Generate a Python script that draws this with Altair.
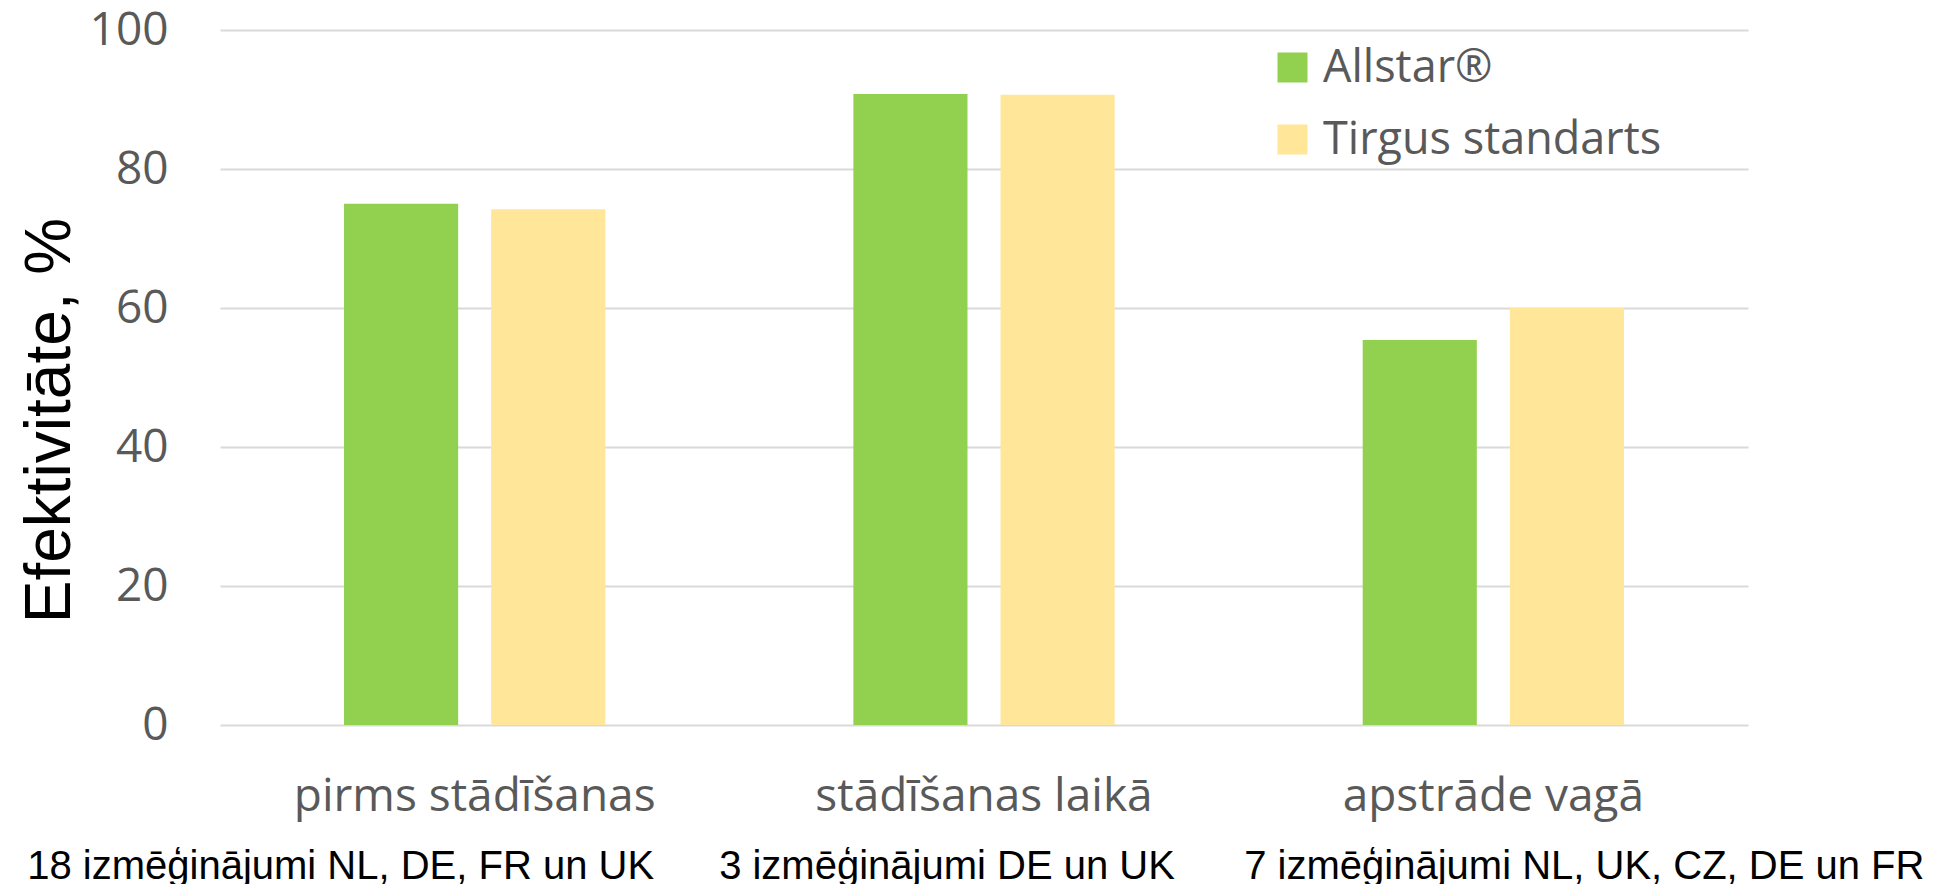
import altair as alt
import pandas as pd

categories = ["pirms stādīšanas", "stādīšanas laikā", "apstrāde vagā"]
series = ["Allstar®", "Tirgus standarts"]
allstar = [75.0, 90.8, 55.4]
tirgus = [74.2, 90.7, 60.0]
notes = [
    "18 izmēģinājumi NL, DE, FR un UK",
    "3 izmēģinājumi DE un UK",
    "7 izmēģinājumi NL, UK, CZ, DE un FR",
]
note_shift = [-134, -37, 91]
y_ticks = [0, 20, 40, 60, 80, 100]
colors = ["#92D050", "#FFE699"]

rows = []
for c, a, t in zip(categories, allstar, tirgus):
    rows.append({"cat": c, "series": series[0], "value": a})
    rows.append({"cat": c, "series": series[1], "value": t})
df = pd.DataFrame(rows)

GRAY = "#595959"
FONT = "Open Sans"

x_enc = alt.X(
    "cat:N",
    sort=categories,
    scale=alt.Scale(paddingInner=0.487, paddingOuter=0.2435),
    axis=alt.Axis(
        title=None,
        labelFont=FONT,
        labelFontSize=46,
        labelColor=GRAY,
        labelBaseline="alphabetic",
        labelPadding=85,
        labelAngle=0,
        labelLimit=0,
        labelOverlap=False,
        ticks=False,
        domain=False,
        grid=False,
    ),
)

bars = alt.Chart(df).mark_bar().encode(
    x=x_enc,
    xOffset=alt.XOffset(
        "series:N",
        sort=series,
        scale=alt.Scale(paddingInner=0.2245, paddingOuter=0),
    ),
    y=alt.Y(
        "value:Q",
        scale=alt.Scale(domain=[0, 100], nice=False),
        axis=alt.Axis(
            title="Efektivitāte, %",
            titleFont="Liberation Sans",
            titleFontSize=64,
            titleFontWeight="normal",
            titleColor="#000000",
            titleAngle=270,
            titleAlign="center",
            titleBaseline="alphabetic",
            titleX=-151,
            titleY=390,
            values=y_ticks,
            labelFont=FONT,
            labelFontSize=46,
            labelColor=GRAY,
            labelPadding=52,
            ticks=False,
            domain=False,
            grid=True,
            gridColor="#D9D9D9",
            gridWidth=2,
        ),
    ),
    color=alt.Color(
        "series:N",
        sort=series,
        scale=alt.Scale(domain=series, range=colors),
        legend=alt.Legend(
            title=None,
            orient="none",
            legendX=1050,
            legendY=15,
            symbolType="square",
            symbolSize=900,
            symbolStrokeWidth=0,
            labelFont=FONT,
            labelFontSize=45,
            labelColor=GRAY,
            labelOffset=8,
            labelLimit=0,
            rowPadding=26,
            padding=0,
        ),
    ),
)

layers = [bars]
for c, n, s in zip(categories, notes, note_shift):
    ndf = pd.DataFrame({"cat": [c], "note": [n]})
    layers.append(
        alt.Chart(ndf)
        .mark_text(
            font="Liberation Sans",
            fontSize=40,
            color="#000000",
            align="center",
            baseline="alphabetic",
            dx=s,
        )
        .encode(x=alt.X("cat:N", sort=categories), y=alt.value(849), text="note:N")
    )

chart = (
    alt.layer(*layers)
    .properties(
        width=1528,
        height=695,
        autosize=alt.AutoSizeParams(type="none"),
        padding={"left": 212, "top": 22, "right": 188, "bottom": 165},
    )
    .configure_view(stroke=None)
)

chart.save("out.html", embed_options={"renderer": "svg", "actions": False})
